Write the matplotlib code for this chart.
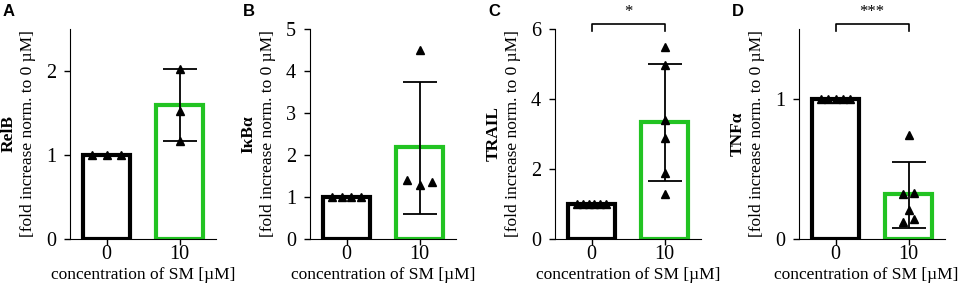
import numpy as np
import matplotlib
matplotlib.use("Agg")
import matplotlib.pyplot as plt

plt.rcParams["font.family"] = ["Liberation Serif", "DejaVu Serif"]

# data
panels = ["A", "B", "C", "D"]
targets = ["RelB", "I\u03baB\u03b1", "TRAIL", "TNF\u03b1"]
doses = ["0", "10"]
means_10 = [1.6, 2.18, 3.35, 0.32]
err_hi = [2.02, 3.73, 5.0, 0.55]
err_lo = [1.17, 0.60, 1.67, 0.08]
points_10 = [
    [2.02, 1.52, 1.17],
    [4.5, 1.4, 1.28, 1.35],
    [5.5, 4.98, 3.4, 2.9, 1.9, 1.3],
    [0.74, 0.32, 0.33, 0.21, 0.12, 0.14],
]
jitter_10 = [
    [0, 0, 0],
    [0, -0.17, 0, 0.17],
    [0, 0, 0, 0, 0, 0],
    [0, -0.08, 0.08, 0, -0.08, 0.08],
]
n_ctrl = [3, 4, 6, 5]
ymax = [2.5, 5, 6, 1.5]
yticks = [[0, 1, 2], [0, 1, 2, 3, 4, 5], [0, 2, 4, 6], [0, 1]]
stars = [None, None, "*", "***"]

GREEN = "#22c322"
lefts = [70, 310, 555, 799]

fig = plt.figure(figsize=(9.65, 2.86), dpi=100)
W, H = 965, 286

for i in range(4):
    ax = fig.add_axes([lefts[i] / W, 1 - 239 / H, 146 / W, 210 / H])
    ax.bar([0, 1], [1.0, means_10[i]], width=0.65, color="white",
           edgecolor=["black", GREEN], linewidth=3, zorder=1)
    # control points, all normalised to 1.0
    xc = np.linspace(-0.2, 0.2, n_ctrl[i])
    ax.plot(xc, np.ones(n_ctrl[i]), "^", color="black", ms=6, zorder=3,
            clip_on=False)
    ax.plot(1 + np.array(jitter_10[i]), points_10[i], "^", color="black",
            ms=6, zorder=3, clip_on=False)
    # SD error bar
    ax.errorbar([1], [means_10[i]],
                yerr=[[means_10[i] - err_lo[i]], [err_hi[i] - means_10[i]]],
                fmt="none", ecolor="black", elinewidth=1.3, capsize=12,
                capthick=1.3, zorder=2)
    ax.set_xlim(-0.5, 1.5)
    ax.set_ylim(0, ymax[i])
    ax.set_yticks(yticks[i])
    ax.set_xticks([0, 1])
    ax.set_xticklabels(doses)
    ax.tick_params(labelsize=14.5, length=4, width=1)
    ax.tick_params(axis="y", pad=6)
    ax.tick_params(axis="x", pad=0.5)
    for s in ["top", "right"]:
        ax.spines[s].set_visible(False)
    ax.set_xlabel("concentration of SM [\u00b5M]", fontsize=12.5)
    ax.xaxis.set_label_coords(0.46 if i == 3 else 0.5, -0.135)
    # two-line y label: bold target name + normal unit line
    ax.text(-0.42, 0.5, targets[i], transform=ax.transAxes, rotation=90,
            ha="center", va="center", fontsize=12.5, fontweight="bold")
    ax.text(-0.29, 0.5, "[fold increase norm. to 0 \u00b5M]",
            transform=ax.transAxes, rotation=90, ha="center", va="center",
            fontsize=12.5)
    fig.text((lefts[i] - 67) / W, 1 - 12 / H, panels[i], fontsize=12,
             fontweight="bold", family="Liberation Sans", ha="left",
             va="center")
    if stars[i]:
        yb = ymax[i] * 1.025
        ax.plot([0, 0, 1, 1], [yb - ymax[i] * 0.035, yb, yb,
                               yb - ymax[i] * 0.035],
                color="black", lw=1.2, clip_on=False)
        ax.text(0.5, yb + ymax[i] * 0.02, stars[i], ha="center",
                va="bottom", fontsize=12)

fig.savefig("out.png", dpi=100)
